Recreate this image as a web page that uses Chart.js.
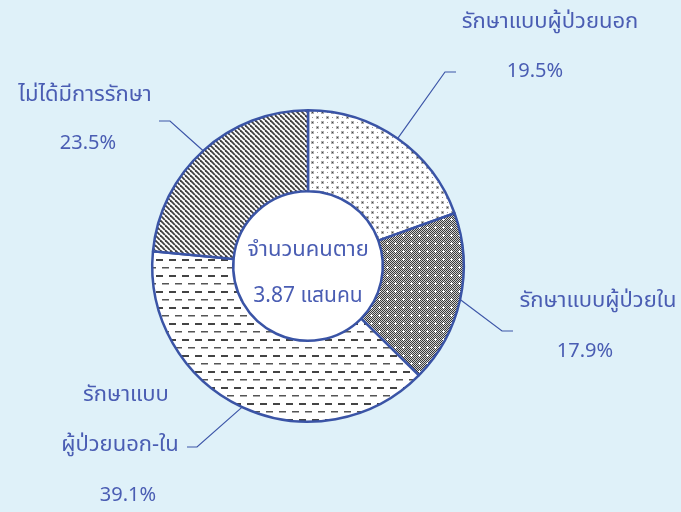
<!DOCTYPE html>
<html>
<head>
<meta charset="utf-8">
<script src="https://cdn.jsdelivr.net/npm/chart.js@4"></script>
<style>
  html, body { margin: 0; padding: 0; background: #dff1f9; }
  #wrap { width: 681px; height: 512px; }
</style>
</head>
<body>
<div id="wrap"><canvas id="deathChart" width="681" height="512"></canvas></div>
<script>
const categories = ['รักษาแบบผู้ป่วยนอก', 'รักษาแบบผู้ป่วยใน', 'รักษาแบบผู้ป่วยนอก-ใน', 'ไม่ได้มีการรักษา'];
const labelLines = [['รักษาแบบผู้ป่วยนอก'], ['รักษาแบบผู้ป่วยใน'], ['รักษาแบบ', 'ผู้ป่วยนอก-ใน'], ['ไม่ได้มีการรักษา']];
const shares = [19.5, 17.9, 39.1, 23.5];
const centerLines = ['จำนวนคนตาย', '3.87 แสนคน'];

const TEXT = '#4a5db3';
const LINE = '#3d56a8';
const FONT = '"Noto Sans Thai", "Noto Sans", "DejaVu Sans", sans-serif';

// where each callout goes (elbow, end of line, text rows, percent)
const callouts = [
  { elbow: [445, 72], end: [456, 72], rows: [[550, 24]], pct: [535, 73] },
  { elbow: [502, 331], end: [513, 331], rows: [[598, 303]], pct: [585, 353] },
  { elbow: [197, 447], end: [187, 447], rows: [[126, 397], [120, 447]], pct: [128, 497] },
  { elbow: [170, 121], end: [159, 121], rows: [[85, 97]], pct: [88, 145] }
];

function tile(w, h, draw) {
  const c = document.createElement('canvas');
  c.width = w; c.height = h;
  draw(c.getContext('2d'));
  return c;
}

const ctx = document.getElementById('deathChart').getContext('2d');

const dots = ctx.createPattern(tile(10, 10, g => {
  g.fillStyle = '#fff'; g.fillRect(0, 0, 10, 10);
  g.fillStyle = '#b0b0b0'; g.fillRect(1, 1, 3, 3); g.fillRect(6, 6, 3, 3);
  g.fillStyle = '#444'; g.fillRect(2, 2, 1, 1); g.fillRect(7, 7, 1, 1);
  g.fillStyle = '#999'; g.fillRect(7, 2, 1, 1); g.fillRect(2, 7, 1, 1);
}), 'repeat');

const checks = ctx.createPattern(tile(8, 8, g => {
  for (let y = 0; y < 8; y++) {
    for (let x = 0; x < 8; x++) {
      g.fillStyle = (x + y) % 2 ? '#d0d0d0' : '#3a3a3a';
      g.fillRect(x, y, 1, 1);
    }
  }
  g.fillStyle = '#fff';
  g.fillRect(3, 2, 1, 3); g.fillRect(2, 3, 3, 1);
}), 'repeat');

const dashes = ctx.createPattern(tile(13, 16, g => {
  g.fillStyle = '#fff'; g.fillRect(0, 0, 13, 16);
  g.fillStyle = '#444'; g.fillRect(0, 3, 7, 2);
  g.fillStyle = '#555'; g.fillRect(6, 11, 7, 1.5);
}), 'repeat');

const stripes = ctx.createPattern(tile(5, 5, g => {
  g.fillStyle = '#fff'; g.fillRect(0, 0, 5, 5);
  g.strokeStyle = '#404040'; g.lineWidth = 1.8;
  for (const o of [-5, 0, 5]) {
    g.beginPath(); g.moveTo(o, 0); g.lineTo(o + 5, 5); g.stroke();
  }
}), 'repeat');

const fills = [dots, checks, dashes, stripes];

const calloutPlugin = {
  id: 'callouts',
  beforeDatasetsDraw(chart) {
    const arc = chart.getDatasetMeta(0).data[0];
    const c = chart.ctx;
    c.save();
    c.fillStyle = '#fff';
    c.beginPath();
    c.arc(arc.x, arc.y, arc.innerRadius, 0, Math.PI * 2);
    c.fill();
    c.restore();
  },
  afterDatasetsDraw(chart) {
    const c = chart.ctx;
    const meta = chart.getDatasetMeta(0);
    c.save();
    c.fillStyle = TEXT;
    c.textAlign = 'center';
    c.textBaseline = 'middle';
    const a0 = meta.data[0];
    c.font = '22px ' + FONT;
    c.fillText(centerLines[0], a0.x, a0.y - 14);
    c.font = '21px ' + FONT;
    c.fillText(centerLines[1], a0.x, a0.y + 32);

    meta.data.forEach((el, i) => {
      const mid = (el.startAngle + el.endAngle) / 2;
      const sx = el.x + Math.cos(mid) * el.outerRadius;
      const sy = el.y + Math.sin(mid) * el.outerRadius;
      const co = callouts[i];
      c.strokeStyle = LINE;
      c.lineWidth = 1.2;
      c.beginPath();
      c.moveTo(sx, sy);
      c.lineTo(co.elbow[0], co.elbow[1]);
      c.lineTo(co.end[0], co.end[1]);
      c.stroke();
      c.font = '22px ' + FONT;
      labelLines[i].forEach((t, k) => c.fillText(t, co.rows[k][0], co.rows[k][1]));
      c.font = '20px ' + FONT;
      c.fillText(shares[i].toFixed(1) + '%', co.pct[0], co.pct[1]);
    });
    c.restore();
  }
};

new Chart(ctx, {
  type: 'doughnut',
  data: {
    labels: categories,
    datasets: [{
      data: shares,
      backgroundColor: fills,
      borderColor: '#3a54a6',
      borderWidth: 2.5
    }]
  },
  options: {
    responsive: false,
    animation: false,
    cutout: '48%',
    layout: { padding: { left: 151, right: 216, top: 109, bottom: 89 } },
    plugins: {
      legend: { display: false },
      tooltip: { enabled: false }
    }
  },
  plugins: [calloutPlugin]
});
</script>
</body>
</html>
